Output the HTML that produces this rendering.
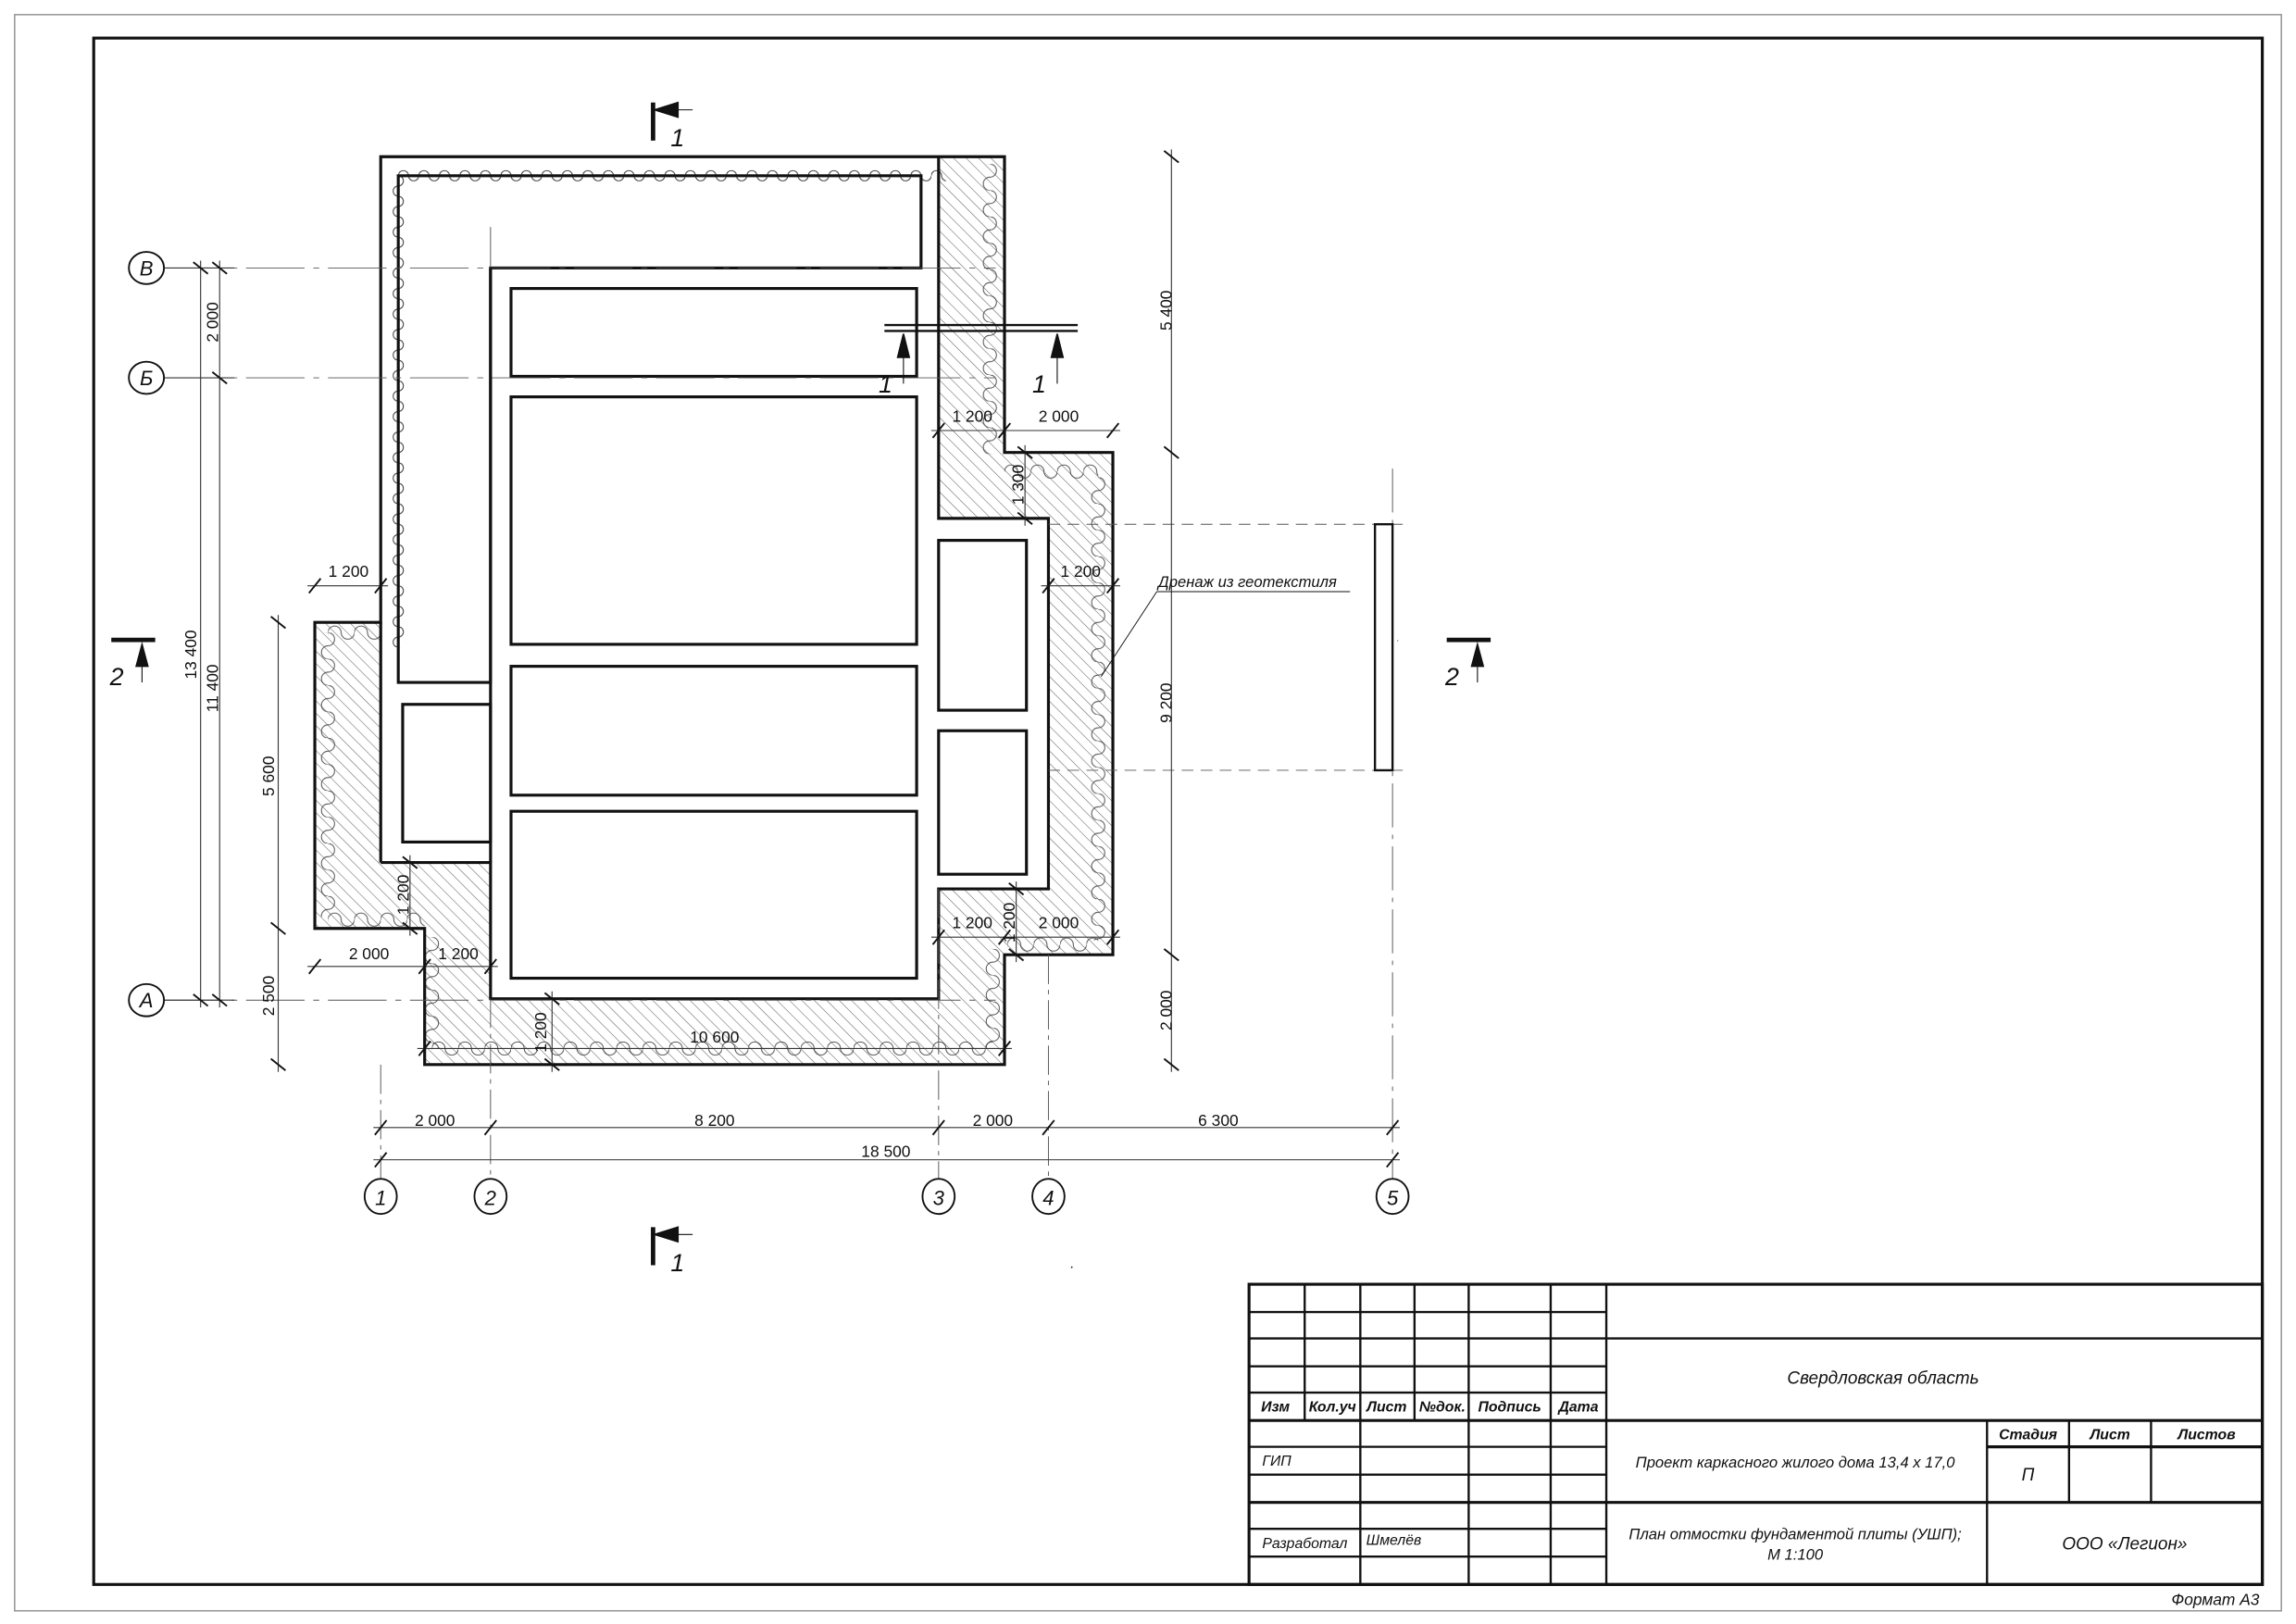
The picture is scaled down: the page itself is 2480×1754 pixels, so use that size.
<!DOCTYPE html>
<html><head><meta charset="utf-8">
<style>
html,body{margin:0;padding:0;background:#fff;}
svg{display:block;}
text{font-family:"Liberation Sans",sans-serif;font-style:italic;fill:#111;}
.n{font-style:normal;}
</style></head>
<body>
<svg xmlns="http://www.w3.org/2000/svg" width="2480" height="1754" viewBox="0 0 1568 1109" preserveAspectRatio="none">
<defs>
<pattern id="h" patternUnits="userSpaceOnUse" width="6" height="6" patternTransform="rotate(-45)">
<line x1="0" y1="0" x2="0" y2="6" stroke="#666" stroke-width="0.7"/>
</pattern>
<pattern id="wh" patternUnits="userSpaceOnUse" width="14" height="8">
<path d="M0,4 A3.5,3.5 0 0 1 7,4 A3.5,3.5 0 0 0 14,4" fill="none" stroke="#333" stroke-width="0.6"/>
</pattern>
<pattern id="wv" patternUnits="userSpaceOnUse" width="8" height="14">
<path d="M4,0 A3.5,3.5 0 0 1 4,7 A3.5,3.5 0 0 0 4,14" fill="none" stroke="#333" stroke-width="0.6"/>
</pattern>
<pattern id="wh2" patternUnits="userSpaceOnUse" width="18" height="10">
<path d="M0,5 A4.5,4.5 0 0 1 9,5 A4.5,4.5 0 0 0 18,5" fill="none" stroke="#444" stroke-width="0.6"/>
</pattern>
<pattern id="wv2" patternUnits="userSpaceOnUse" width="10" height="18">
<path d="M5,0 A4.5,4.5 0 0 1 5,9 A4.5,4.5 0 0 0 5,18" fill="none" stroke="#444" stroke-width="0.6"/>
</pattern>
</defs>
<rect x="0" y="0" width="1568" height="1109" fill="#fff"/>
<rect x="10" y="10" width="1548" height="1090" fill="none" stroke="#999" stroke-width="1"/>
<rect x="64" y="26" width="1481" height="1056" fill="none" stroke="#111" stroke-width="2"/>

<!-- hatched region -->
<path fill="url(#h)" fill-rule="evenodd" d="M260,107 L686,107 L686,309 L760,309 L760,652 L686,652 L686,727 L290,727 L290,634 L215,634 L215,425 L260,425 Z M260,107 L641,107 L641,354 L716,354 L716,607 L641,607 L641,682 L335,682 L335,589 L260,589 Z"/>

<!-- waves -->
<g transform="translate(272,116)"><rect width="374" height="8" fill="url(#wh)"/></g>
<g transform="translate(268,120)"><rect width="8" height="322" fill="url(#wv)"/></g>
<g transform="translate(671,112)"><rect width="10" height="198" fill="url(#wv2)"/></g>
<g transform="translate(686,317)"><rect width="64" height="10" fill="url(#wh2)"/></g>
<g transform="translate(745,326)"><rect width="10" height="316" fill="url(#wv2)"/></g>
<g transform="translate(688,640)"><rect width="62" height="10" fill="url(#wh2)"/></g>
<g transform="translate(673,648)"><rect width="10" height="68" fill="url(#wv2)"/></g>
<g transform="translate(295,711)"><rect width="383" height="10" fill="url(#wh2)"/></g>
<g transform="translate(290,640)"><rect width="10" height="76" fill="url(#wv2)"/></g>
<g transform="translate(224,623)"><rect width="66" height="10" fill="url(#wh2)"/></g>
<g transform="translate(219,432)"><rect width="10" height="194" fill="url(#wv2)"/></g>
<g transform="translate(224,427)"><rect width="36" height="10" fill="url(#wh2)"/></g>

<!-- outlines -->
<g fill="none" stroke="#111" stroke-width="2">
<path d="M260,107 L686,107 L686,309 L760,309 L760,652 L686,652 L686,727 L290,727 L290,634 L215,634 L215,425 L260,425 Z"/>
<path d="M260,589 L335,589 L335,682 L641,682 L641,607 L716,607 L716,354 L641,354 L641,107"/>
<path d="M260,425 L260,589"/>
<path d="M272,120 L629,120 L629,183 L335,183 L335,466 L272,466 Z"/>
<path d="M335,183 L335,589"/>
<rect x="275" y="481" width="60" height="94"/>
<rect x="349" y="197" width="277" height="60"/>
<rect x="349" y="271" width="277" height="169"/>
<rect x="349" y="455" width="277" height="88"/>
<rect x="349" y="554" width="277" height="114"/>
<rect x="641" y="369" width="60" height="116"/>
<rect x="641" y="499" width="60" height="98"/>
</g>

<!-- axis lines -->
<g fill="none" stroke="#555" stroke-width="0.6">
<line x1="112" y1="183" x2="680" y2="183" stroke-dasharray="40,6,4,6"/>
<line x1="112" y1="258" x2="680" y2="258" stroke-dasharray="40,6,4,6"/>
<line x1="112" y1="683" x2="680" y2="683" stroke-dasharray="40,6,4,6"/>
<line x1="260" y1="727" x2="260" y2="805" stroke-dasharray="20,4,3,4"/>
<line x1="335" y1="155" x2="335" y2="183"/>
<line x1="335" y1="682" x2="335" y2="805" stroke-dasharray="20,4,3,4"/>
<line x1="641" y1="607" x2="641" y2="805" stroke-dasharray="20,4,3,4"/>
<line x1="716" y1="652" x2="716" y2="805" stroke-dasharray="20,4,3,4"/>
<line x1="951" y1="320" x2="951" y2="805" stroke-dasharray="30,5,3,5"/>
<line x1="716" y1="358" x2="963" y2="358" stroke-dasharray="8,5"/>
<line x1="716" y1="526" x2="963" y2="526" stroke-dasharray="8,5"/>
</g>
<rect x="939" y="358" width="12" height="168" fill="#fff" stroke="#111" stroke-width="1.5"/>

<!-- dimension lines -->
<g fill="none" stroke="#333" stroke-width="0.7">
<line x1="255" y1="770" x2="956" y2="770"/>
<line x1="255" y1="792" x2="956" y2="792"/>
<line x1="210" y1="400" x2="265" y2="400"/>
<line x1="636" y1="294" x2="765" y2="294"/>
<line x1="711" y1="400" x2="765" y2="400"/>
<line x1="636" y1="640" x2="765" y2="640"/>
<line x1="210" y1="660" x2="340" y2="660"/>
<line x1="285" y1="716" x2="691" y2="716"/>
<line x1="137" y1="178" x2="137" y2="688"/>
<line x1="150" y1="178" x2="150" y2="688"/>
<line x1="190" y1="420" x2="190" y2="732"/>
<line x1="800" y1="102" x2="800" y2="732"/>
<line x1="700" y1="304" x2="700" y2="359"/>
<line x1="694" y1="602" x2="694" y2="657"/>
<line x1="280" y1="584" x2="280" y2="639"/>
<line x1="377" y1="677" x2="377" y2="732"/>
<line x1="112" y1="183" x2="160" y2="183"/>
<line x1="112" y1="258" x2="160" y2="258"/>
<line x1="112" y1="683" x2="160" y2="683"/>
</g>
<path fill="none" stroke="#111" stroke-width="1.2" d="
M256,775L264,765 M331,775L339,765 M637,775L645,765 M712,775L720,765 M947,775L955,765
M256,797L264,787 M947,797L955,787
M211,405L219,395 M256,405L264,395
M637,299L645,289 M682,299L690,289 M756,299L764,289
M712,405L720,395 M756,405L764,395
M637,645L645,635 M682,645L690,635 M756,645L764,635
M211,665L219,655 M286,665L294,655 M331,665L339,655
M286,721L294,711 M682,721L690,711
M132,179L142,187 M132,679L142,687
M145,179L155,187 M145,254L155,262 M145,679L155,687
M185,421L195,429 M185,630L195,638 M185,723L195,731
M795,103L805,111 M795,305L805,313 M795,648L805,656 M795,723L805,731
M695,305L705,313 M695,350L705,358
M689,603L699,611 M689,648L699,656
M275,585L285,593 M275,630L285,638
M372,678L382,686 M372,723L382,731"/>

<!-- axis bubbles -->
<g fill="#fff" stroke="#111" stroke-width="1.2">
<ellipse cx="100" cy="183" rx="12" ry="11"/>
<ellipse cx="100" cy="258" rx="12" ry="11"/>
<ellipse cx="100" cy="683" rx="12" ry="11"/>
<ellipse cx="260" cy="817" rx="11" ry="12"/>
<ellipse cx="335" cy="817" rx="11" ry="12"/>
<ellipse cx="641" cy="817" rx="11" ry="12"/>
<ellipse cx="716" cy="817" rx="11" ry="12"/>
<ellipse cx="951" cy="817" rx="11" ry="12"/>
</g>
<g font-size="14" text-anchor="middle">
<text x="100" y="188">В</text><text x="100" y="263">Б</text><text x="100" y="688">А</text>
<text x="260" y="823">1</text><text x="335" y="823">2</text><text x="641" y="823">3</text><text x="716" y="823">4</text><text x="951" y="823">5</text>
</g>

<!-- section marks -->
<g stroke="#111" fill="#111">
<line x1="446" y1="70" x2="446" y2="96" stroke-width="3"/>
<polygon points="447,75 463,70 463,80"/>
<line x1="463" y1="75" x2="473" y2="75" stroke-width="0.7"/>
<line x1="446" y1="838" x2="446" y2="864" stroke-width="3"/>
<polygon points="447,843 463,838 463,848"/>
<line x1="463" y1="843" x2="473" y2="843" stroke-width="0.7"/>
<line x1="76" y1="437" x2="106" y2="437" stroke-width="3"/>
<polygon points="97,440 93,455 101,455"/>
<line x1="97" y1="455" x2="97" y2="466" stroke-width="0.7"/>
<line x1="988" y1="437" x2="1018" y2="437" stroke-width="3"/>
<polygon points="1009,440 1005,455 1013,455"/>
<line x1="1009" y1="455" x2="1009" y2="466" stroke-width="0.7"/>
<line x1="604" y1="222" x2="736" y2="222" stroke-width="1.5"/>
<line x1="604" y1="226" x2="736" y2="226" stroke-width="1.5"/>
<polygon points="617,228 613,244 621,244"/>
<line x1="617" y1="244" x2="617" y2="262" stroke-width="0.7"/>
<polygon points="722,228 718,244 726,244"/>
<line x1="722" y1="244" x2="722" y2="262" stroke-width="0.7"/>
<line x1="790" y1="404" x2="922" y2="404" stroke-width="0.6"/>
<line x1="790" y1="404" x2="752" y2="462" stroke-width="0.6"/>
</g>
<g font-size="17">
<text x="458" y="100">1</text><text x="458" y="868">1</text>
<text x="75" y="468">2</text><text x="987" y="468">2</text>
<text x="600" y="268">1</text><text x="705" y="268">1</text>
</g>
<text x="791" y="401" font-size="10.5">Дренаж из геотекстиля</text>
<text x="954" y="438" font-size="6">.</text>
<text x="731" y="866" font-size="10">.</text>

<!-- dim texts -->
<g font-size="11" text-anchor="middle">
<text class="n" x="297" y="769">2 000</text>
<text class="n" x="488" y="769">8 200</text>
<text class="n" x="678" y="769">2 000</text>
<text class="n" x="832" y="769">6 300</text>
<text class="n" x="605" y="790">18 500</text>
<text class="n" x="238" y="394">1 200</text>
<text class="n" x="664" y="288">1 200</text>
<text class="n" x="723" y="288">2 000</text>
<text class="n" x="738" y="394">1 200</text>
<text class="n" x="664" y="634">1 200</text>
<text class="n" x="723" y="634">2 000</text>
<text class="n" x="252" y="655">2 000</text>
<text class="n" x="313" y="655">1 200</text>
<text class="n" x="488" y="712">10 600</text>
<text class="n" transform="translate(134,447) rotate(-90)">13 400</text>
<text class="n" transform="translate(149,470) rotate(-90)">11 400</text>
<text class="n" transform="translate(149,220) rotate(-90)">2 000</text>
<text class="n" transform="translate(187,530) rotate(-90)">5 600</text>
<text class="n" transform="translate(187,680) rotate(-90)">2 500</text>
<text class="n" transform="translate(800,212) rotate(-90)">5 400</text>
<text class="n" transform="translate(800,480) rotate(-90)">9 200</text>
<text class="n" transform="translate(800,690) rotate(-90)">2 000</text>
<text class="n" transform="translate(699,331) rotate(-90)">1 300</text>
<text class="n" transform="translate(693,630) rotate(-90)">1 200</text>
<text class="n" transform="translate(279,611) rotate(-90)">1 200</text>
<text class="n" transform="translate(373,705) rotate(-90)">1 200</text>
</g>

<!-- title block -->
<g fill="none" stroke="#111">
<rect x="853" y="877" width="692" height="205" stroke-width="2"/>
<g stroke-width="1.5">
<line x1="1097" y1="877" x2="1097" y2="1082"/>
<line x1="891" y1="877" x2="891" y2="970"/>
<line x1="929" y1="877" x2="929" y2="1082"/>
<line x1="966" y1="877" x2="966" y2="970"/>
<line x1="1003" y1="877" x2="1003" y2="1082"/>
<line x1="1059" y1="877" x2="1059" y2="1082"/>
<line x1="853" y1="896" x2="1097" y2="896"/>
<line x1="853" y1="914" x2="1545" y2="914"/>
<line x1="853" y1="933" x2="1097" y2="933"/>
<line x1="853" y1="951" x2="1097" y2="951"/>
<line x1="853" y1="970" x2="1545" y2="970" stroke-width="2"/>
<line x1="853" y1="988" x2="1097" y2="988"/>
<line x1="1357" y1="988" x2="1545" y2="988" stroke-width="2"/>
<line x1="853" y1="1007" x2="1097" y2="1007"/>
<line x1="853" y1="1026" x2="1545" y2="1026" stroke-width="2"/>
<line x1="853" y1="1044" x2="1097" y2="1044"/>
<line x1="853" y1="1063" x2="1097" y2="1063"/>
<line x1="1357" y1="970" x2="1357" y2="1082"/>
<line x1="1413" y1="970" x2="1413" y2="1026"/>
<line x1="1469" y1="970" x2="1469" y2="1026"/>
</g>
</g>
<g font-size="10" font-weight="bold" text-anchor="middle">
<text x="871" y="964">Изм</text><text x="910" y="964">Кол.уч</text><text x="947" y="964">Лист</text>
<text x="985" y="964">№док.</text><text x="1031" y="964">Подпись</text><text x="1078" y="964">Дата</text>
<text x="1385" y="983">Стадия</text><text x="1441" y="983">Лист</text><text x="1507" y="983">Листов</text>
</g>
<g font-size="10">
<text x="862" y="1001">ГИП</text>
<text x="862" y="1057">Разработал</text>
<text x="933" y="1055">Шмелёв</text>
</g>
<g text-anchor="middle">
<text x="1286" y="945" font-size="12">Свердловская область</text>
<text x="1226" y="1002" font-size="10.5">Проект каркасного жилого дома 13,4 х 17,0</text>
<text x="1385" y="1011" font-size="12">П</text>
<text x="1226" y="1051" font-size="10.5">План отмостки фундаментой плиты (УШП);</text>
<text x="1226" y="1065" font-size="10.5">М 1:100</text>
<text x="1451" y="1058" font-size="12">ООО «Легион»</text>
</g>
<text x="1543" y="1096" font-size="11" text-anchor="end">Формат А3</text>
</svg>
</body></html>
